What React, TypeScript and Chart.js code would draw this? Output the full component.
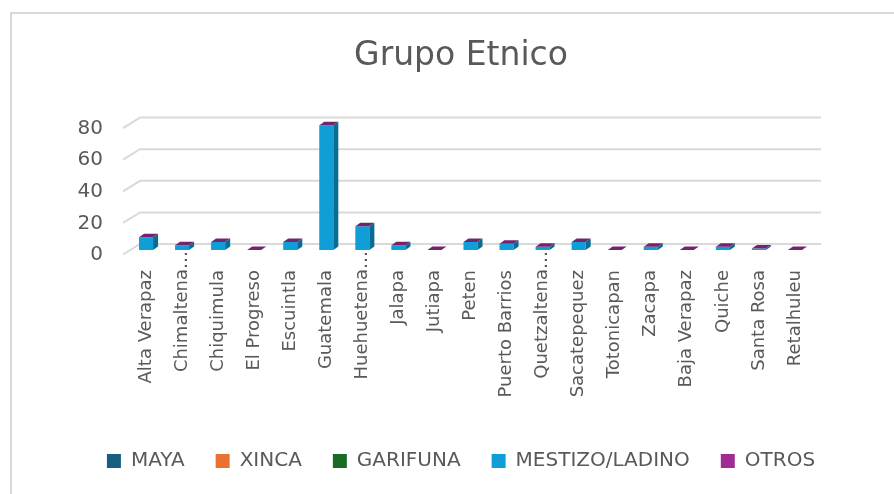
import React, { useEffect, useRef } from "react";
import { Chart, registerables } from "chart.js";

Chart.register(...registerables);

const categories = [
  "Alta Verapaz", "Chimaltenango", "Chiquimula", "El Progreso", "Escuintla",
  "Guatemala", "Huehuetenango", "Jalapa", "Jutiapa", "Peten", "Puerto Barrios",
  "Quetzaltenango", "Sacatepequez", "Totonicapan", "Zacapa", "Baja Verapaz",
  "Quiche", "Santa Rosa", "Retalhuleu",
];
const tickLabels = [
  "Alta Verapaz", "Chimaltena…", "Chiquimula", "El Progreso", "Escuintla",
  "Guatemala", "Huehuetena…", "Jalapa", "Jutiapa", "Peten", "Puerto Barrios",
  "Quetzaltena…", "Sacatepequez", "Totonicapan", "Zacapa", "Baja Verapaz",
  "Quiche", "Santa Rosa", "Retalhuleu",
];
const maya = [0, 0, 0, 0, 0, 0, 0, 0, 0, 0, 0, 0, 0, 0, 0, 0, 0, 0, 0];
const xinca = [0, 0, 0, 0, 0, 0, 0, 0, 0, 0, 0, 0, 0, 0, 0, 0, 0, 0, 0];
const garifuna = [0, 0, 0, 0, 0, 0, 0, 0, 0, 0, 0, 0, 0, 0, 0, 0, 0, 0, 0];
const mestizo = [8, 3, 5, 0, 5, 79, 15, 3, 0, 5, 4, 2, 5, 0, 2, 0, 2, 1, 0];
const otros = [0, 0, 0, 0, 0, 0, 0, 0, 0, 0, 0, 0, 0, 0, 0, 0, 0, 0, 0];
const yTicks = [0, 20, 40, 60, 80];

const seriesNames = ["MAYA", "XINCA", "GARIFUNA", "MESTIZO/LADINO", "OTROS"];
const seriesColors = ["#156082", "#E97132", "#196B24", "#0F9ED5", "#A02B93"];

const FONT = "'DejaVu Sans', sans-serif";
const GRAY = "#595959";

const threeD = {
  id: "threeD",
  beforeDatasetsDraw(chart: any) {
    const { ctx, chartArea, scales } = chart;
    const y = scales.y;
    ctx.save();
    ctx.strokeStyle = "#d9d9d9";
    ctx.lineWidth = 2;
    for (const v of yTicks) {
      const yb = y.getPixelForValue(v) - 6;
      ctx.beginPath();
      ctx.moveTo(chartArea.left - 5, yb + 10.5);
      ctx.lineTo(chartArea.left + 12, yb);
      ctx.lineTo(chartArea.right + 8, yb);
      ctx.stroke();
    }
    ctx.restore();
  },
  afterDatasetsDraw(chart: any) {
    const { ctx, scales, chartArea } = chart;
    const all = [maya, xinca, garifuna, mestizo, otros];
    const meta = chart.getDatasetMeta(3);
    const dx = 5;
    const dy = -3.5;
    ctx.save();
    categories.forEach((_, i) => {
      const total = all.reduce((s, arr) => s + arr[i], 0);
      const el: any = meta.data[i];
      const w = el.width;
      const xl = el.x - w / 2;
      const xr = el.x + w / 2;
      const base = scales.y.getPixelForValue(0);
      const top = scales.y.getPixelForValue(total);
      if (total > 0) {
        ctx.fillStyle = "#0a6c93";
        ctx.beginPath();
        ctx.moveTo(xr, top);
        ctx.lineTo(xr + dx, top + dy);
        ctx.lineTo(xr + dx, base + dy);
        ctx.lineTo(xr, base);
        ctx.closePath();
        ctx.fill();
      }
      ctx.fillStyle = "#74246f";
      ctx.beginPath();
      ctx.moveTo(xl, top);
      ctx.lineTo(xl + dx, top + dy);
      ctx.lineTo(xr + dx, top + dy);
      ctx.lineTo(xr, top);
      ctx.closePath();
      ctx.fill();
    });

    // category labels
    ctx.font = `18px ${FONT}`;
    ctx.fillStyle = GRAY;
    ctx.textAlign = "right";
    ctx.textBaseline = "middle";
    const ell = ctx.measureText("…").width;
    const anchor = chartArea.bottom + 20;
    tickLabels.forEach((lab, i) => {
      const x = scales.x.getPixelForValue(i);
      ctx.save();
      ctx.translate(x, anchor);
      ctx.rotate(-Math.PI / 2);
      const off = lab.endsWith("…") ? ell + 1 : 0;
      ctx.fillText(lab, off, 0);
      ctx.restore();
    });
    ctx.restore();
  },
};

export default function App() {
  const ref = useRef<HTMLCanvasElement>(null);
  useEffect(() => {
    if (!ref.current) return;
    const data = [maya, xinca, garifuna, mestizo, otros];
    const chart = new Chart(ref.current, {
      type: "bar",
      data: {
        labels: categories,
        datasets: seriesNames.map((name, k) => ({
          label: name,
          data: data[k],
          backgroundColor: seriesColors[k],
          borderWidth: 0,
          categoryPercentage: 1,
          barPercentage: 0.39,
          yAxisID: "y",
        })),
      },
      options: {
        responsive: false,
        animation: false,
        events: [],
        layout: { padding: { left: 56, right: 56, top: 0, bottom: 13 } },
        plugins: {
          title: {
            display: true,
            text: "Grupo Etnico",
            color: GRAY,
            font: { size: 33, family: FONT, weight: "normal" },
            padding: { top: 23, bottom: 47 },
          },
          legend: {
            position: "bottom",
            labels: {
              color: GRAY,
              font: { size: 20, family: FONT },
              boxWidth: 14,
              boxHeight: 14,
              padding: 31,
            },
          },
          tooltip: { enabled: false },
        },
        scales: {
          x: {
            stacked: true,
            grid: { display: false, drawTicks: false },
            border: { display: false },
            ticks: { display: false },
            afterFit: (s: any) => {
              s.height = 170;
            },
          },
          y: {
            stacked: true,
            min: 0,
            max: 80,
            position: "left",
            grid: { display: false, drawTicks: false },
            border: { display: false },
            ticks: {
              stepSize: 20,
              color: GRAY,
              font: { size: 20, family: FONT },
              padding: 25,
              labelOffset: 5,
            },
            afterFit: (s: any) => {
              s.width = 60;
            },
          },
          y2: {
            position: "right",
            min: 0,
            max: 80,
            grid: { display: false, drawTicks: false },
            border: { display: false },
            ticks: { display: false },
            afterFit: (s: any) => {
              s.width = 41;
            },
          },
        },
      },
      plugins: [threeD],
    } as any);
    return () => chart.destroy();
  }, []);

  return (
    <div
      style={{
        position: "fixed",
        left: 10,
        top: 12,
        borderLeft: "2px solid #d9d9d9",
        borderTop: "2px solid #d9d9d9",
        background: "#fff",
      }}
    >
      <canvas ref={ref} width={898} height={480} style={{ display: "block" }} />
    </div>
  );
}
